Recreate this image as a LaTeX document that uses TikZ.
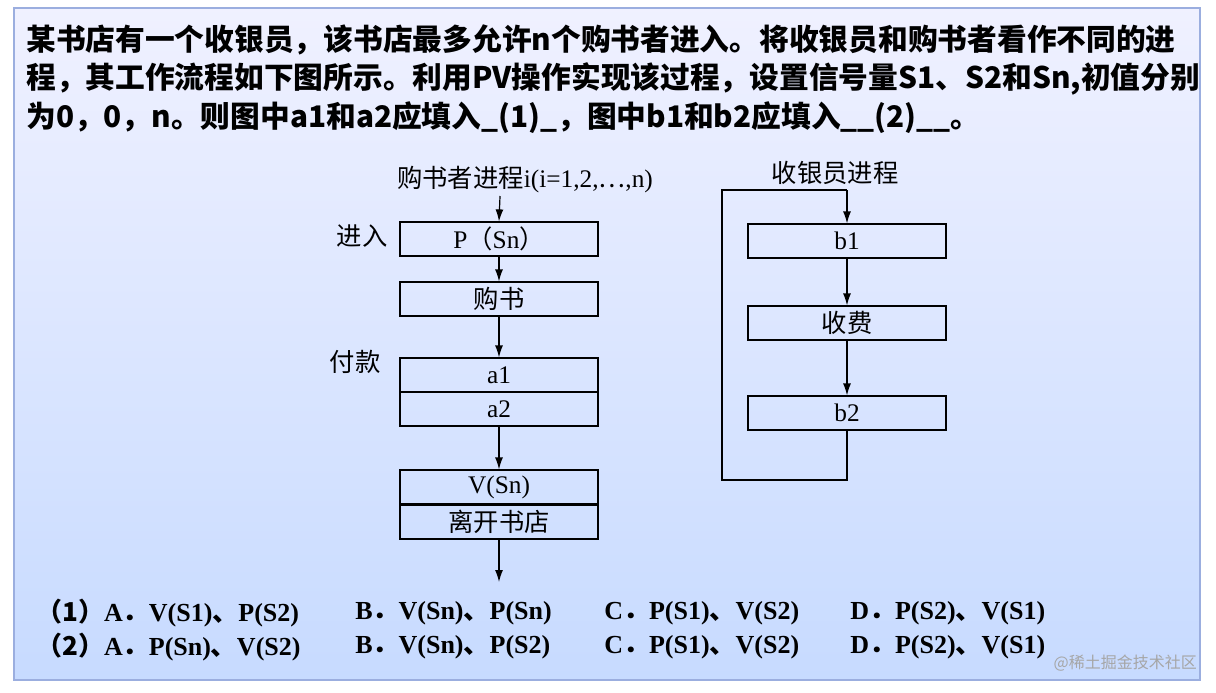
\documentclass[tikz,border=0pt]{standalone}
\usepackage{fontspec}
\setmainfont{Liberation Serif}
\newfontfamily\cjk{Noto Sans CJK SC}
\usetikzlibrary{arrows.meta}
\begin{document}
\begin{tikzpicture}[x=0.75pt,y=-0.75pt,
  box/.style={draw,line width=0.9pt,minimum width=148.5pt,minimum height=25.5pt,inner sep=0pt,font=\fontsize{19}{19}\selectfont},
  arr/.style={draw,line width=0.9pt,-{Latex[length=9pt,width=6pt]}},
  ttl/.style={anchor=west,inner sep=0pt,font=\cjk\bfseries\fontsize{22.3}{20}\selectfont},
  opt/.style={anchor=west,inner sep=0pt,font=\bfseries\fontsize{19.5}{19}\selectfont},
  lab/.style={inner sep=0pt,font=\fontsize{19}{19}\selectfont}]
\useasboundingbox (0,0) rectangle (1216,692);
\fill[white] (0,0) rectangle (1216,692);
\shade[top color=cyan!8!blue!6, bottom color=cyan!35!blue!22, draw=cyan!40!blue!40, line width=1.5pt] (14,8) rectangle (1200,680);
\node[ttl] (t1) at (26,40) {某书店有一个收银员，该书店最多允许n个购书者进入。将收银员和购书者看作不同的进};
\node[ttl] (t2) at (26,79) {程，其工作流程如下图所示。利用PV操作实现该过程，设置信号量S1、S2和Sn,初值分别};
\node[ttl] (t3) at (26,118) {为0，0，n。则图中a1和a2应填入\_(1)\_，图中b1和b2应填入\_\_(2)\_\_。};
% left column
\node[lab] (lt) at (525,180) {{\cjk 购书者进程}i(i=1,2,{\cjk ⋯},n)};
\coordinate (ls) at (500,196);
\node[box] (p) at (499,239) {P{\cjk （}Sn{\cjk ）}};
\node[box] (g) at (499,299) {\cjk 购书};
\node[box] (a1) at (499,375) {a1};
\node[box] (a2) at (499,409) {a2};
\node[box] (v) at (499,487) {V(Sn)};
\node[box] (l) at (499,522) {\cjk 离开书店};
\coordinate (le) at (499,582);
\node[lab] (jr) at (362,236) {\cjk 进入};
\node[lab] (fk) at (355,362) {\cjk 付款};
\draw[arr] (ls) -- (p.north);
\draw[arr] (p) -- (g);
\draw[arr] (g) -- (a1);
\draw[arr] (a2) -- (v);
\draw[arr] (l) -- (le);
% right column
\node[lab] (rt) at (835,173) {\cjk 收银员进程};
\node[box] (b1) at (847,241) {b1};
\node[box] (sf) at (847,323) {\cjk 收费};
\node[box] (b2) at (847,413) {b2};
\coordinate (c1) at (847,480);
\coordinate (c2) at (722,480);
\coordinate (c3) at (722,190);
\coordinate (c4) at (847,190);
\draw[line width=0.9pt] (b2.south) -- (c1) -- (c2) -- (c3) -- (c4);
\draw[arr] (c4) -- (b1.north);
\draw[arr] (b1) -- (sf);
\draw[arr] (sf) -- (b2);
% options
\node[opt] (o1) at (36,613) {{\cjk （1）}A{\cjk ．}V(S1){\cjk 、}P(S2)};
\node[opt] (o2) at (355,613) {B{\cjk ．}V(Sn){\cjk 、}P(Sn)};
\node[opt] (o3) at (604,613) {C{\cjk ．}P(S1){\cjk 、}V(S2)};
\node[opt] (o4) at (850,613) {D{\cjk ．}P(S2){\cjk 、}V(S1)};
\node[opt] (q1) at (36,647) {{\cjk （2）}A{\cjk ．}P(Sn){\cjk 、}V(S2)};
\node[opt] (q2) at (355,647) {B{\cjk ．}V(Sn){\cjk 、}P(S2)};
\node[opt] (q3) at (604,647) {C{\cjk ．}P(S1){\cjk 、}V(S2)};
\node[opt] (q4) at (850,647) {D{\cjk ．}P(S2){\cjk 、}V(S1)};
\node[anchor=east,inner sep=0pt,text=gray!70,font=\cjk\fontsize{12}{12}\selectfont] (wm) at (1197,663) {@稀土掘金技术社区};
\end{tikzpicture}
\end{document}
